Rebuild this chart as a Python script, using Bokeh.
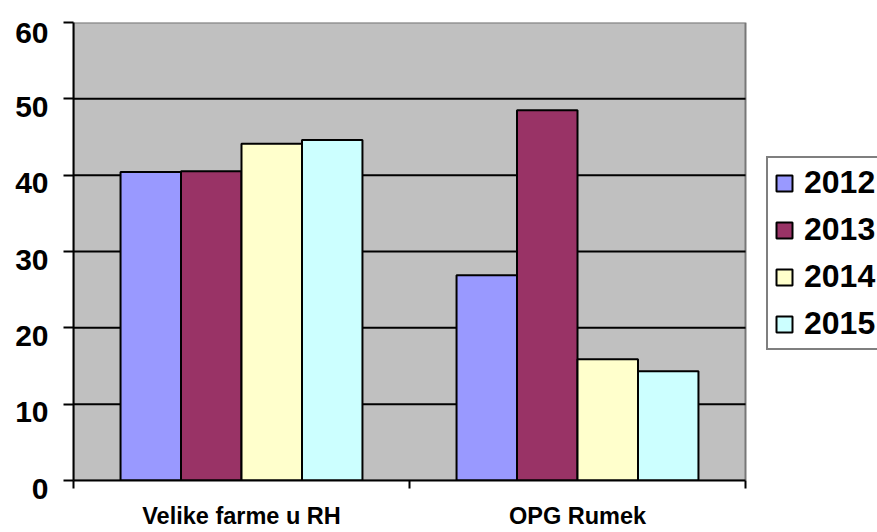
from bokeh.plotting import figure
from bokeh.models import Range1d, FixedTicker, ColumnDataSource, Legend, LegendItem
from bokeh.embed import file_html
from bokeh.resources import INLINE

categories = ["Velike farme u RH", "OPG Rumek"]
years = ["2012", "2013", "2014", "2015"]
v2012 = [40.4, 26.9]
v2013 = [40.5, 48.5]
v2014 = [44.1, 15.9]
v2015 = [44.6, 14.3]
y_ticks = [0, 10, 20, 30, 40, 50, 60]
colors = ["#9999FF", "#993366", "#FFFFCC", "#CCFFFF"]

FONT = "Liberation Sans"

# layout (pixels)
W, H = 877, 532
LEFT, TOP, PLOT_RIGHT, BOTTOM = 73, 22, 745, 480
n = len(categories)
# the frame spans to the canvas edge so that the legend (which the
# reference shows cut by the right edge) can sit to the right of the plot area
x_end = n * (W - LEFT) / (PLOT_RIGHT - LEFT)

p = figure(width=W, height=H, x_range=Range1d(0, x_end), y_range=Range1d(y_ticks[0], y_ticks[-1]),
           output_backend="svg", toolbar_location=None,
           min_border_left=LEFT, min_border_right=0, min_border_top=TOP, min_border_bottom=H - BOTTOM)
p.background_fill_color = "white"
p.border_fill_color = "white"
p.outline_line_color = None
p.xgrid.visible = False
p.ygrid.visible = False

# grey plot area
p.quad(left=[0], right=[n], bottom=[y_ticks[0]], top=[y_ticks[-1]],
       fill_color="#C0C0C0", line_color="#777777", line_width=2)

# horizontal gridlines
grid_vals = y_ticks[1:-1]
p.segment(x0=[0] * len(grid_vals), x1=[n] * len(grid_vals), y0=grid_vals, y1=grid_vals,
          line_color="black", line_width=2)

bar_w = 0.18
series = [v2012, v2013, v2014, v2015]
renderers = []
for k, (vals, c) in enumerate(zip(series, colors)):
    xs = [i + 0.5 + (k - 1.5) * bar_w for i in range(n)]
    src = ColumnDataSource(dict(x=xs, top=vals))
    r = p.vbar(x='x', top='top', width=bar_w, bottom=0, source=src,
               fill_color=c, line_color="black", line_width=2)
    renderers.append(r)

# y axis (labels sit a little below their ticks, as in the reference)
ya = p.yaxis[0]
ya.ticker = FixedTicker(ticks=y_ticks)
ya.major_label_overrides = {t: "\n" + str(t) for t in y_ticks}
ya.major_label_text_line_height = 0.46
ya.axis_line_color = "black"
ya.axis_line_width = 2
ya.major_tick_line_color = "black"
ya.major_tick_line_width = 2
ya.major_tick_out = 10
ya.major_tick_in = 0
ya.minor_tick_line_color = None
ya.major_label_text_font = FONT
ya.major_label_text_font_style = "bold"
ya.major_label_text_font_size = "30px"
ya.major_label_text_color = "black"
ya.major_label_standoff = 15

# x axis: labels at category centres, ticks at category boundaries
cat_pos = [i + 0.5 for i in range(n)]
xa = p.xaxis[0]
xa.bounds = (0, n)
xa.ticker = FixedTicker(ticks=cat_pos, minor_ticks=list(range(n + 1)))
xa.major_label_overrides = {pos: name for pos, name in zip(cat_pos, categories)}
xa.axis_line_color = "black"
xa.axis_line_width = 2
xa.major_tick_line_color = None
xa.major_tick_out = 0
xa.major_tick_in = 0
xa.minor_tick_line_color = "black"
xa.minor_tick_line_width = 2
xa.minor_tick_out = 8
xa.minor_tick_in = 0
xa.major_label_text_font = FONT
xa.major_label_text_font_style = "bold"
xa.major_label_text_font_size = "23.5px"
xa.major_label_text_color = "black"
xa.major_label_standoff = 14

legend = Legend(items=[LegendItem(label=y, renderers=[r]) for y, r in zip(years, renderers)],
                location=(766 - LEFT, BOTTOM - 350))
legend.label_text_font = FONT
legend.label_text_font_style = "bold"
legend.label_text_font_size = "32px"
legend.label_text_color = "black"
legend.glyph_width = 20
legend.glyph_height = 20
legend.padding = 6
legend.spacing = 10
legend.label_standoff = 10
legend.margin = 0
legend.border_line_color = "black"
legend.border_line_width = 2
legend.background_fill_color = "white"
legend.background_fill_alpha = 1.0
p.add_layout(legend)

open("out.html", "w").write(file_html(p, INLINE))
